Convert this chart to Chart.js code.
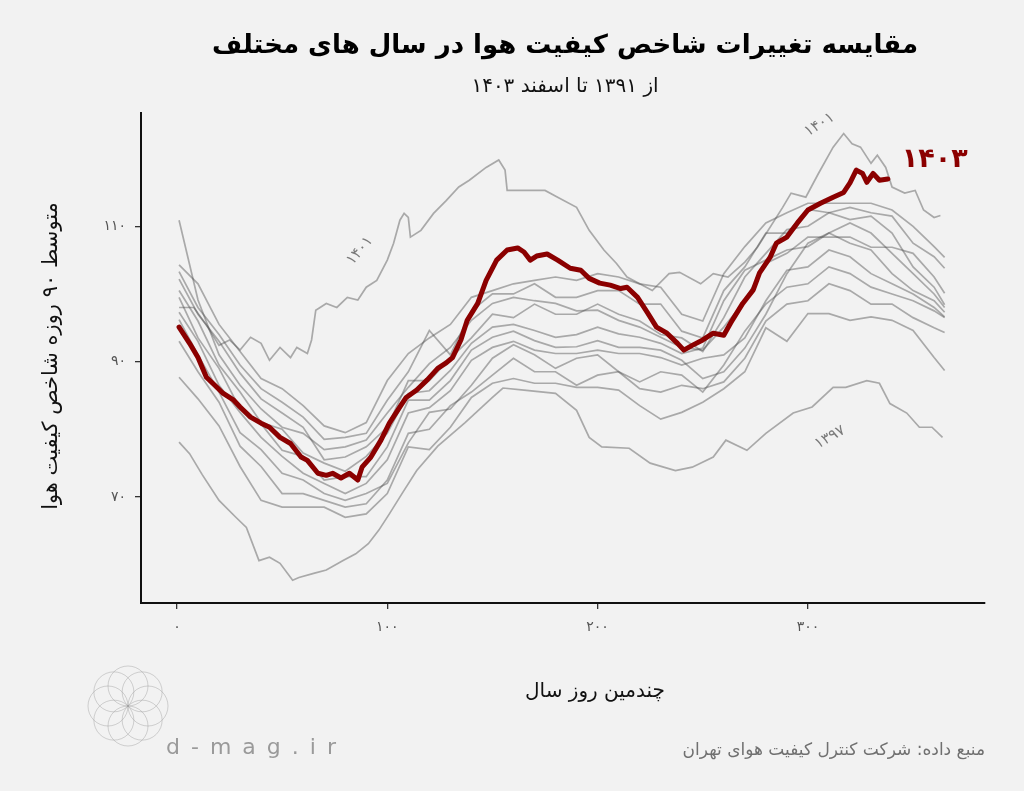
<!DOCTYPE html>
<html><head><meta charset="utf-8">
<script src="https://cdn.jsdelivr.net/npm/chart.js@4.4.1/dist/chart.umd.min.js"></script>
<style>html,body{margin:0;padding:0;background:#f2f2f2;}canvas{display:block;}</style>
</head><body>
<canvas id="c" width="1024" height="791"></canvas>
<script>
// ---------- data ----------
const xTicks = [0, 100, 200, 300];
const yTicks = [70, 90, 110];

const grayDays = [1,10,20,30,40,50,60,70,80,90,100,110,120,130,140,150,160,170,180,190,200,210,220,230,240,250,260,270,280,290,300,310,320,330,340,350,360,365];
const v1391 = [110.9,99.1,91.0,86.5,83.0,80.3,79.4,77.0,77.4,78.4,82.4,86.2,89.7,92.1,96.1,98.6,99.5,99.0,98.6,97.5,97.6,96.1,95.1,93.6,92.1,91.7,95.1,99.0,104.5,106.0,108.4,108.4,108.4,106.9,106.9,106.0,102.5,100.1];
const v1402 = [104.3,101.5,95.5,91.5,87.5,86.0,83.5,80.5,79.5,81.0,87.2,91.2,93.5,95.5,99.5,100.5,101.5,102.0,102.5,102.0,103.0,102.5,101.5,101.0,97.0,96.0,103.0,107.0,110.5,112.0,113.4,113.4,113.4,113.4,112.4,110.0,107.0,105.4];
const v1400 = [103.3,98.0,94.0,89.5,86.0,84.0,81.8,78.5,78.8,79.4,84.3,88.5,94.6,91.0,97.5,100.0,100.0,101.5,99.5,99.5,100.5,100.5,98.5,98.5,94.5,93.5,100.5,104.0,109.0,109.0,112.5,112.0,112.8,112.0,111.5,107.5,105.5,103.8];
const v1399 = [102.2,97.0,93.0,88.3,84.5,82.4,80.3,75.5,75.9,77.4,80.3,87.2,87.2,90.5,93.5,97.0,96.5,98.5,97.0,97.0,98.5,97.0,96.0,94.0,93.5,91.5,96.5,102.5,106.0,109.5,110.0,112.0,111.0,111.5,109.0,104.0,101.0,98.4];
const v1398 = [100.5,96.0,89.5,85.5,81.0,80.0,76.5,75.0,73.8,76.0,79.4,85.3,85.7,88.7,92.7,95.1,95.5,94.6,93.6,94.0,95.1,94.1,93.6,92.7,91.2,92.0,99.0,103.5,105.0,106.5,107.0,109.0,110.5,109.0,106.0,103.0,100.0,98.0];
const v1396 = [99.5,93.5,89.0,83.0,80.8,76.9,76.0,72.5,73.0,73.0,77.4,84.3,84.3,87.2,91.7,93.6,94.5,93.1,92.1,92.2,93.1,92.1,92.1,91.7,90.2,87.5,88.5,92.0,97.0,103.0,107.5,109.0,107.5,106.5,103.0,100.5,99.0,97.3];
const v1395 = [97.3,93.0,86.5,82.5,78.8,76.0,73.5,72.0,70.5,72.0,75.5,82.4,83.2,85.7,90.2,92.1,93.0,91.7,91.2,91.2,91.7,91.2,91.2,90.6,89.5,90.5,91.0,93.5,99.0,103.5,104.0,106.5,105.5,103.0,101.5,100.0,98.0,96.6];
const v1394 = [96.2,91.0,85.5,79.5,77.0,73.5,72.5,70.5,69.5,70.5,72.0,78.0,82.5,83.0,86.5,90.5,92.5,91.0,89.0,90.5,91.0,88.5,87.0,88.5,88.0,85.5,89.5,94.5,98.5,101.0,101.5,104.0,103.0,101.0,100.0,99.0,97.5,96.5];
const v1393 = [93.0,88.5,84.0,77.5,74.5,70.5,70.5,69.5,68.5,69.0,72.5,79.4,80.0,83.5,85.5,88.0,90.5,88.5,88.5,86.5,88.0,88.5,86.0,85.5,86.5,86.0,87.0,90.5,96.0,98.5,99.0,101.5,100.5,98.5,98.5,96.5,95.0,94.3];
const v1392 = [87.7,84.5,80.5,74.5,69.5,68.5,68.5,68.5,67.0,67.5,70.5,77.4,77.0,80.3,84.7,86.8,87.5,86.8,86.8,86.2,86.2,85.8,83.5,81.5,82.5,84.0,86.0,88.5,95.0,93.0,97.1,97.1,96.1,96.6,96.1,94.6,90.6,88.7];

const days1401 = [1,8,14,20,25,30,35,40,44,49,54,57,62,64,66,71,76,81,86,90,95,100,103,106,108,110,111,116,122,128,134,139,147,153,156,157,165,175,181,190,196,203,209,214,226,234,239,249,255,262,270,276,288,292,299,305,312,317,321,325,330,333,337,340,346,351,355,360,363];
const v1401 = [98.0,98.0,95.4,92.4,93.2,91.7,93.6,92.7,90.2,92.1,90.6,92.1,91.2,93.2,97.6,98.6,98.0,99.5,99.1,101.0,102.0,105.0,107.5,110.9,111.9,111.3,108.4,109.4,111.9,113.8,115.8,116.8,118.7,119.8,118.3,115.3,115.3,115.3,114.3,112.8,109.4,106.5,104.5,102.5,100.5,103.0,103.2,101.5,103.0,102.5,104.7,106.9,112.8,114.9,114.3,117.8,121.7,123.7,122.2,121.7,119.3,120.5,118.7,115.8,114.9,115.3,112.4,111.3,111.6];

const days1397 = [1,6,12,20,28,33,39,44,49,55,58,65,71,79,85,91,96,101,107,114,124,137,150,155,165,180,190,196,202,215,225,237,245,255,261,271,280,293,302,312,318,328,334,339,347,353,359,364];
const v1397 = [78.1,76.4,73.3,69.5,67.0,65.5,60.6,61.1,60.2,57.7,58.1,58.7,59.2,60.6,61.6,63.1,65.1,67.5,70.5,73.9,77.5,81.0,84.7,86.1,85.8,85.3,82.8,78.8,77.4,77.2,75.0,73.9,74.4,75.9,78.4,76.9,79.4,82.4,83.3,86.2,86.2,87.2,86.8,83.8,82.4,80.3,80.3,78.8];

const days1403 = [1,6,10,14,17,22,27,30,35,40,44,49,54,59,62,67,71,74,78,82,86,88,92,97,101,106,109,114,119,124,128,131,135,138,143,147,152,157,162,165,168,171,176,181,187,192,196,201,206,211,214,219,224,228,233,238,241,245,250,255,260,264,269,274,277,282,285,290,295,300,306,312,317,320,323,326,328,331,334,338];
const v1403 = [95.1,92.7,90.6,87.7,86.8,85.3,84.3,83.3,81.8,80.9,80.3,78.8,77.9,75.9,75.4,73.5,73.2,73.5,72.8,73.5,72.5,74.4,75.8,78.4,80.9,83.3,84.7,85.8,87.3,89.0,89.8,90.6,93.2,96.1,98.6,102.0,105.0,106.5,106.8,106.2,105.0,105.6,105.9,105.0,103.8,103.5,102.3,101.6,101.3,100.8,101.0,99.5,97.1,95.1,94.2,92.7,91.7,92.4,93.2,94.2,93.9,96.1,98.6,100.6,103.1,105.4,107.5,108.4,110.5,112.4,113.4,114.3,115.0,116.4,118.3,117.8,116.5,117.8,116.8,117.0];

// ---------- helpers ----------
const FA_DIG = '۰۱۲۳۴۵۶۷۸۹';
const fa = n => String(n).replace(/\d/g, d => FA_DIG[+d]);
const FONT = '"DejaVu Sans", "Noto Sans", sans-serif';
const pts = (ds, vs) => ds.map((d, i) => ({x: d, y: vs[i]}));

const grayStyle = {borderColor: 'rgba(80,80,80,0.45)', borderWidth: 1.7, order: 1, pointRadius: 0};
const grays = [
  ['1391', grayDays, v1391], ['1392', grayDays, v1392], ['1393', grayDays, v1393],
  ['1394', grayDays, v1394], ['1395', grayDays, v1395], ['1396', grayDays, v1396],
  ['1397', days1397, v1397], ['1398', grayDays, v1398], ['1399', grayDays, v1399],
  ['1400', grayDays, v1400], ['1401', days1401, v1401], ['1402', grayDays, v1402]
];

const datasets = [{
  label: '1403', data: pts(days1403, v1403), borderColor: '#8b0000', borderWidth: 5,
  borderCapStyle: 'round', borderJoinStyle: 'round', order: 0, pointRadius: 0
}].concat(grays.map(([lab, d, v]) => Object.assign({label: lab, data: pts(d, v)}, grayStyle)));

// annotation anchors (data coordinates)
const yearLabels = [
  {text: fa(1401), day: 87, val: 106.4, rot: -50},
  {text: fa(1401), day: 305.5, val: 125.0, rot: -32},
  {text: fa(1397), day: 310.5, val: 78.8, rot: -30}
];

function drawText(ctx, txt, x, y, font, color, align, rot) {
  ctx.save();
  ctx.translate(x, y);
  if (rot) ctx.rotate(rot * Math.PI / 180);
  ctx.font = font; ctx.fillStyle = color;
  ctx.textAlign = align || 'center'; ctx.textBaseline = 'middle';
  ctx.direction = 'rtl';
  ctx.fillText(txt, 0, 0);
  ctx.restore();
}

const decor = {
  id: 'decor',
  beforeDraw(chart) {
    const ctx = chart.ctx;
    ctx.save(); ctx.fillStyle = '#f2f2f2'; ctx.fillRect(0, 0, chart.width, chart.height); ctx.restore();
  },
  afterDraw(chart) {
    const ctx = chart.ctx, xs = chart.scales.x, ys = chart.scales.y;
    // titles
    drawText(ctx, 'مقایسه تغییرات شاخص کیفیت هوا در سال های مختلف', 565, 46, 'bold 26px ' + FONT, '#000');
    drawText(ctx, 'از ۱۳۹۱ تا اسفند ۱۴۰۳', 565, 87, '20px ' + FONT, '#111');
    // axis titles
    drawText(ctx, 'متوسط ۹۰ روزه شاخص کیفیت هوا', 52, 356, '21px ' + FONT, '#111', 'center', -90);
    drawText(ctx, 'چندمین روز سال', 595, 692, '20px ' + FONT, '#111');
    // source
    drawText(ctx, 'منبع داده: شرکت کنترل کیفیت هوای تهران', 985, 751, '17px ' + FONT, '#707070', 'right');
    // year labels
    yearLabels.forEach(l => drawText(ctx, l.text, xs.getPixelForValue(l.day), ys.getPixelForValue(l.val), '15px ' + FONT, '#7a7a7a', 'center', l.rot));
    // 1403 label next to the end of the red line
    const lastX = xs.getPixelForValue(days1403[days1403.length - 1]);
    const lastY = ys.getPixelForValue(v1403[v1403.length - 1]);
    drawText(ctx, fa(1403), lastX + 14, lastY - 19, 'bold 27px ' + FONT, '#8b0000', 'left');
    // watermark: d-mag.ir
    ctx.save();
    ctx.font = '22px ' + FONT; ctx.fillStyle = '#9a9a9a'; ctx.textBaseline = 'middle'; ctx.textAlign = 'left';
    let x = 166;
    for (const ch of 'd-mag.ir') { ctx.fillText(ch, x, 748); x += ctx.measureText(ch).width + 11; }
    // faint ornamental logo
    ctx.strokeStyle = 'rgba(150,150,150,0.4)'; ctx.lineWidth = 1;
    for (let k = 0; k < 8; k++) {
      const a = k * Math.PI / 4;
      ctx.beginPath(); ctx.arc(128 + 20 * Math.cos(a), 706 + 20 * Math.sin(a), 20, 0, 2 * Math.PI); ctx.stroke();
    }
    ctx.restore();
  }
};

const tickFont = {family: FONT, size: 14};
new Chart(document.getElementById('c').getContext('2d'), {
  type: 'line',
  data: {datasets},
  options: {
    responsive: false, animation: false, devicePixelRatio: 1,
    layout: {padding: {top: 113, right: 39, left: 0, bottom: 0}},
    plugins: {legend: {display: false}, tooltip: {enabled: false}, title: {display: false}},
    elements: {line: {tension: 0}, point: {radius: 0}},
    scales: {
      x: {
        type: 'linear', min: -17.1, max: 384.2,
        afterBuildTicks: s => { s.ticks = xTicks.map(v => ({value: v})); },
        afterFit: s => { s.height = 188; },
        grid: {display: true, drawOnChartArea: false, drawTicks: true, tickLength: 6, color: '#333', lineWidth: 1.3},
        border: {display: true, color: '#111', width: 2},
        ticks: {callback: v => fa(v), color: '#555', font: tickFont, padding: 10, maxRotation: 0, autoSkip: false}
      },
      y: {
        type: 'linear', min: 54.33, max: 126.74,
        afterBuildTicks: s => { s.ticks = yTicks.map(v => ({value: v})); },
        afterFit: s => { s.width = 141; },
        grid: {display: true, drawOnChartArea: false, drawTicks: true, tickLength: 6, color: '#333', lineWidth: 1.3},
        border: {display: true, color: '#111', width: 2},
        ticks: {callback: v => fa(v), color: '#555', font: tickFont, padding: 9, autoSkip: false}
      }
    }
  },
  plugins: [decor]
});
</script>
</body></html>
